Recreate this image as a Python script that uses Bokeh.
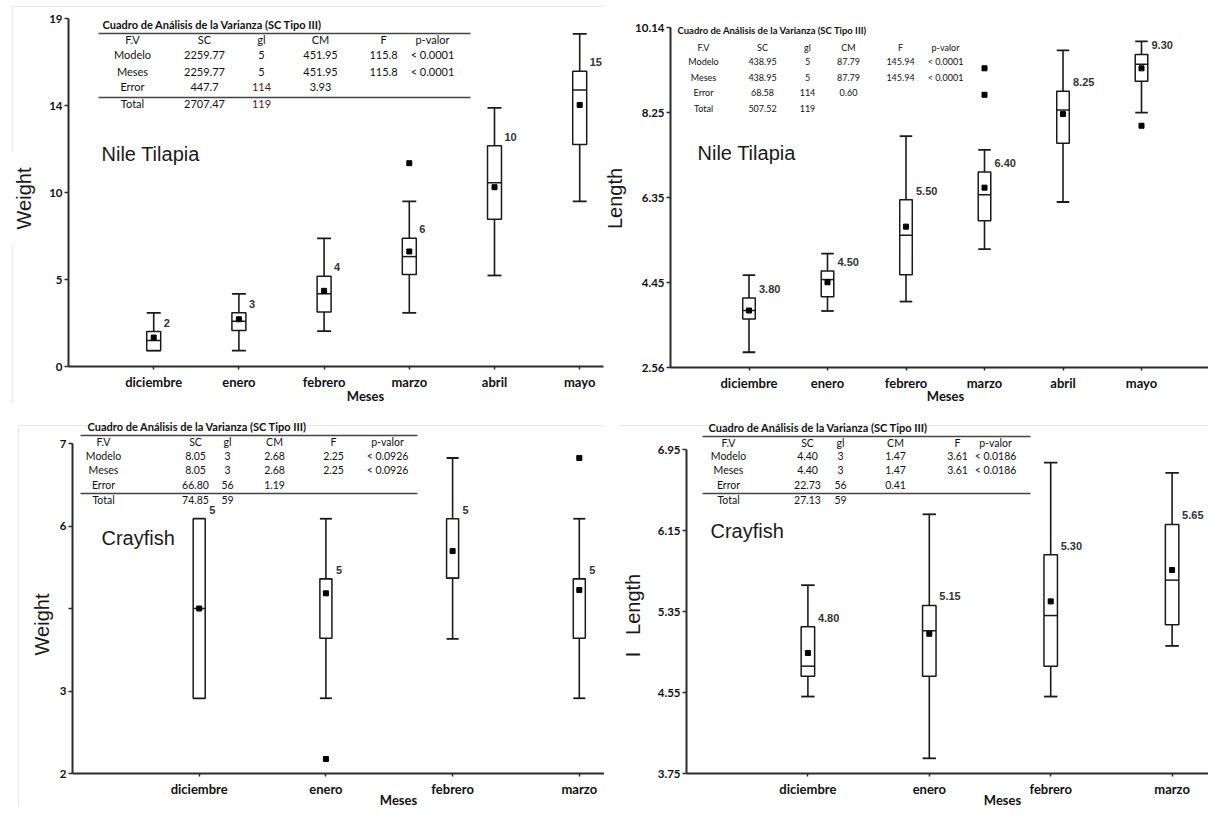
import math
from bokeh.plotting import figure
from bokeh.layouts import gridplot
from bokeh.models import Label, BoxAnnotation, FixedTicker, Range1d
from bokeh.embed import file_html
from bokeh.resources import INLINE
from bokeh.core.properties import value

# ---------------- data ----------------
meses_tilapia = ["diciembre", "enero", "febrero", "marzo", "abril", "mayo"]
meses_crayfish = ["diciembre", "enero", "febrero", "marzo"]

# Nile Tilapia - Weight
tw_lo = [0.87, 0.87, 1.93, 2.93, 4.97, 9.02]
tw_q1 = [0.87, 1.96, 2.98, 5.02, 8.04, 12.12]
tw_med = [1.42, 2.47, 3.97, 6.00, 10.03, 15.10]
tw_q3 = [1.91, 2.93, 4.93, 7.00, 12.05, 16.12]
tw_hi = [2.93, 3.97, 7.00, 9.02, 14.12, 18.16]
tw_mean = [1.58, 2.58, 4.13, 6.28, 9.79, 14.28]
tw_out_x = [4]
tw_out_y = [11.10]
tw_labels = ["2", "3", "4", "6", "10", "15"]
tw_ticks = [0, 4.75, 9.5, 14.25, 19]
tw_tick_labels = ["0", "5", "10", "14", "19"]

# Nile Tilapia - Length
tl_lo = [2.90, 3.82, 4.03, 5.20, 6.25, 8.24]
tl_q1 = [3.64, 4.14, 4.63, 5.83, 7.56, 8.94]
tl_med = [3.83, 4.52, 5.51, 6.41, 8.30, 9.32]
tl_q3 = [4.11, 4.71, 6.30, 6.92, 8.72, 9.54]
tl_hi = [4.62, 5.10, 7.72, 7.41, 9.63, 9.83]
tl_mean = [3.83, 4.46, 5.70, 6.57, 8.21, 9.23]
tl_out_x = [4, 4, 6]
tl_out_y = [9.23, 8.64, 7.95]
tl_labels = ["3.80", "4.50", "5.50", "6.40", "8.25", "9.30"]
tl_ticks = [2.56, 4.455, 6.35, 8.245, 10.14]
tl_tick_labels = ["2.56", "4.45", "6.35", "8.25", "10.14"]

# Crayfish - Weight
cw_lo = [3.14, 3.14, 4.04, 3.14]
cw_q1 = [3.14, 4.05, 4.96, 4.05]
cw_med = [4.50, 4.95, 4.96, 4.95]
cw_q3 = [5.86, 4.95, 5.86, 4.95]
cw_hi = [5.86, 5.86, 6.78, 5.86]
cw_mean = [4.50, 4.73, 5.37, 4.78]
cw_out_x = [2, 4]
cw_out_y = [2.22, 6.78]
cw_labels = ["5", "5", "5", "5"]
cw_ticks = [2, 3.25, 4.5, 5.75, 7]
cw_tick_labels = ["2", "3", "", "6", "7"]

# Crayfish - Length
cl_lo = [4.51, 3.90, 4.51, 5.01]
cl_q1 = [4.71, 4.71, 4.81, 5.22]
cl_med = [4.81, 5.16, 5.31, 5.66]
cl_q3 = [5.20, 5.41, 5.91, 6.21]
cl_hi = [5.61, 6.31, 6.82, 6.72]
cl_mean = [4.94, 5.13, 5.45, 5.76]
cl_labels = ["4.80", "5.15", "5.30", "5.65"]
cl_ticks = [3.75, 4.55, 5.35, 6.15, 6.95]
cl_tick_labels = ["3.75", "4.55", "5.35", "6.15", "6.95"]

# ANOVA tables
table_header = ["F.V", "SC", "gl", "CM", "F", "p-valor"]
table_title = "Cuadro de Análisis de la Varianza (SC Tipo III)"
tw_table = [["Modelo", "2259.77", "5", "451.95", "115.8", "< 0.0001"],
            ["Meses", "2259.77", "5", "451.95", "115.8", "< 0.0001"],
            ["Error", "447.7", "114", "3.93", "", ""],
            ["Total", "2707.47", "119", "", "", ""]]
tl_table = [["Modelo", "438.95", "5", "87.79", "145.94", "< 0.0001"],
            ["Meses", "438.95", "5", "87.79", "145.94", "< 0.0001"],
            ["Error", "68.58", "114", "0.60", "", ""],
            ["Total", "507.52", "119", "", "", ""]]
cw_table = [["Modelo", "8.05", "3", "2.68", "2.25", "< 0.0926"],
            ["Meses", "8.05", "3", "2.68", "2.25", "< 0.0926"],
            ["Error", "66.80", "56", "1.19", "", ""],
            ["Total", "74.85", "59", "", "", ""]]
cl_table = [["Modelo", "4.40", "3", "1.47", "3.61", "< 0.0186"],
            ["Meses", "4.40", "3", "1.47", "3.61", "< 0.0186"],
            ["Error", "22.73", "56", "0.41", "", ""],
            ["Total", "27.13", "59", "", "", ""]]

INK = "#1a1a1a"
AXIS = "#2b2b2b"


def make_fig(W, H, AL, AR, T0, B, s, ymin, ymax, cats, ticks, tick_labels):
    """Frame covers the whole figure; axes are placed at fixed data locations."""
    x_start = -AL / s
    x_end = (W - AL) / s
    u = (ymax - ymin) / (B - T0)
    y_start = ymin - (H - B) * u
    y_end = ymax + T0 * u
    p = figure(width=W, height=H, x_range=Range1d(x_start, x_end), y_range=Range1d(y_start, y_end),
               output_backend="svg", toolbar_location=None,
               min_border_left=0, min_border_right=0, min_border_top=0, min_border_bottom=0)
    p.grid.visible = False
    p.outline_line_color = None
    p.background_fill_color = "white"
    p.border_fill_color = "white"
    xs = list(range(1, len(cats) + 1))
    p.xaxis.ticker = FixedTicker(ticks=xs)
    p.xaxis.major_label_overrides = {x: c for x, c in zip(xs, cats)}
    p.yaxis.ticker = FixedTicker(ticks=ticks)
    p.yaxis.major_label_overrides = {t: l for t, l in zip(ticks, tick_labels)}
    p.yaxis.fixed_location = 0
    p.xaxis.fixed_location = ymin
    p.yaxis.bounds = (ymin, ymax)
    p.xaxis.bounds = (0, (AR - AL) / s)
    for ax in (p.xaxis[0], p.yaxis[0]):
        ax.axis_line_color = AXIS
        ax.axis_line_width = 2
        ax.major_tick_line_color = AXIS
        ax.major_tick_line_width = 1.5
        ax.major_tick_in = 0
        ax.minor_tick_line_color = None
        ax.major_label_text_font = "Lato"
        ax.major_label_text_font_style = "bold"
        ax.major_label_text_color = "#111111"
    p.xaxis.major_tick_out = 3
    p.yaxis.major_tick_out = 4
    p.xaxis.major_label_text_font_size = "13px"
    p.xaxis.major_label_standoff = 4
    p.yaxis.major_label_text_font_size = "11.5px"
    p.yaxis.major_label_standoff = 2
    p._geom = H
    return p


def text_at(p, px, py, txt, size="10px", font="Lato", style="normal", align="center",
            color="#111111", angle=0.0):
    p.add_layout(Label(x=px, y=p._geom - py, x_units="screen", y_units="screen", text=txt,
                       text_font=font, text_font_size=size, text_font_style=style,
                       text_align=align, text_baseline="middle", text_color=color, angle=angle))


def hrule(p, x0, x1, py, color="#444444", thick=1.4):
    sy = p._geom - py
    p.add_layout(BoxAnnotation(left=x0, right=x1, bottom=sy - thick / 2, top=sy + thick / 2,
                               left_units="screen", right_units="screen",
                               bottom_units="screen", top_units="screen",
                               fill_color=color, fill_alpha=1.0, line_alpha=0))


def vrule(p, px, y0, y1, color="#e6e6e6", thick=1.0):
    H = p._geom
    p.add_layout(BoxAnnotation(left=px - thick / 2, right=px + thick / 2, bottom=H - y1, top=H - y0,
                               left_units="screen", right_units="screen",
                               bottom_units="screen", top_units="screen",
                               fill_color=color, fill_alpha=1.0, line_alpha=0))


def draw_boxes(p, n, lo, q1, med, q3, hi, mean, w, labels, out_x=None, out_y=None):
    xs = list(range(1, n + 1))
    left = [x - w / 2 for x in xs]
    right = [x + w / 2 for x in xs]
    p.segment(x0=xs, y0=lo, x1=xs, y1=q1, line_color=INK, line_width=1.6)
    p.segment(x0=xs, y0=q3, x1=xs, y1=hi, line_color=INK, line_width=1.6)
    p.segment(x0=left, y0=lo, x1=right, y1=lo, line_color=INK, line_width=1.8)
    p.segment(x0=left, y0=hi, x1=right, y1=hi, line_color=INK, line_width=1.8)
    p.vbar(x=xs, width=w, bottom=q1, top=q3, fill_color="white", line_color=INK, line_width=1.5)
    p.segment(x0=left, y0=med, x1=right, y1=med, line_color=INK, line_width=1.5)
    p.scatter(x=xs, y=mean, marker="square", size=5, fill_color="black", line_color="black")
    if out_x:
        p.scatter(x=out_x, y=out_y, marker="square", size=5, fill_color="black", line_color="black")
    p.text(x=xs, y=q3, text=labels, x_offset=10, y_offset=-9,
           text_font=value("Liberation Sans"), text_font_style="bold",
           text_font_size="11px", text_align="left", text_baseline="middle",
           text_color="#333333")


def draw_table(p, title_xy, rows_y, cols_x, rule_x, rule_ys, rows, size, tsize, num_color=None):
    text_at(p, title_xy[0], title_xy[1], table_title, size=tsize, style="bold", align="left")
    for ry in rule_ys:
        hrule(p, rule_x[0], rule_x[1], ry)
    all_rows = [table_header] + rows
    for ri, (r, yy) in enumerate(zip(all_rows, rows_y)):
        for c, (cx, cell) in enumerate(zip(cols_x, r)):
            if cell:
                col = "#111111"
                if num_color and c == 2 and ri >= 3:
                    col = num_color
                text_at(p, cx, yy, cell, size=size, color=col)


def axis_titles(p, ylab, yx, yy, mx, my):
    text_at(p, yx, yy, ylab, size="20px", font="Liberation Sans", color="#1a1a1a", angle=math.pi / 2)
    text_at(p, mx, my, "Meses", size="13px", style="bold")


# ---------------- Top-left: Nile Tilapia weight ----------------
p1 = make_fig(604, 403, 68, 603, 18, 366, 85.2, 0, 19, meses_tilapia, tw_ticks, tw_tick_labels)
hrule(p1, 12, 604, 6, color="#e6e6e6", thick=1.0)
vrule(p1, 12, 6, 152)
vrule(p1, 12, 245, 403)
draw_boxes(p1, 6, tw_lo, tw_q1, tw_med, tw_q3, tw_hi, tw_mean, 0.164, tw_labels, tw_out_x, tw_out_y)
draw_table(p1, (102, 24), [39, 54, 71, 86, 103], [132, 204, 261, 320, 383, 432],
           (98, 470), [33, 97], tw_table, "11px", "11px", num_color="#5a1414")
text_at(p1, 101, 153, "Nile Tilapia", size="20px", font="Liberation Sans", align="left", color="#1a1a1a")
axis_titles(p1, "Weight", 23, 198, 365, 395)

# ---------------- Top-right: Nile Tilapia length ----------------
p2 = make_fig(604, 403, 66, 604, 27, 367, 78.5, 2.56, 10.14, meses_tilapia, tl_ticks, tl_tick_labels)
draw_boxes(p2, 6, tl_lo, tl_q1, tl_med, tl_q3, tl_hi, tl_mean, 0.16, tl_labels, tl_out_x, tl_out_y)
draw_table(p2, (73, 30), [47, 61, 77, 92, 108], [99, 158, 203, 244, 296, 341],
           (0, 0), [], tl_table, "9px", "9.5px")
text_at(p2, 93, 152, "Nile Tilapia", size="20px", font="Liberation Sans", align="left", color="#1a1a1a")
axis_titles(p2, "Length", 10, 198, 341, 395)

# ---------------- Bottom-left: Crayfish weight ----------------
p3 = make_fig(604, 404, 72, 604, 40, 370, 126.7, 2, 7, meses_crayfish, cw_ticks, cw_tick_labels)
hrule(p3, 18, 604, 22, color="#e6e6e6", thick=1.0)
vrule(p3, 18, 22, 404)
draw_boxes(p3, 4, cw_lo, cw_q1, cw_med, cw_q3, cw_hi, cw_mean, 0.095, cw_labels, cw_out_x, cw_out_y)
draw_table(p3, (87, 23), [38, 52, 66, 81, 96], [103, 195, 227, 274, 333, 387],
           (80, 417), [32, 90], cw_table, "10.5px", "11px")
text_at(p3, 101, 134, "Crayfish", size="20px", font="Liberation Sans", align="left", color="#1a1a1a")
axis_titles(p3, "Weight", 41, 221, 398, 396)

# ---------------- Bottom-right: Crayfish length ----------------
p4 = make_fig(604, 404, 82, 604, 46, 370, 121.4, 3.75, 6.95, meses_crayfish, cl_ticks, cl_tick_labels)
hrule(p4, 14, 604, 22, color="#e6e6e6", thick=1.0)
draw_boxes(p4, 4, cl_lo, cl_q1, cl_med, cl_q3, cl_hi, cl_mean, 0.111, cl_labels)
draw_table(p4, (104, 24), [39, 52, 66, 81, 96], [124, 203, 236, 291, 353, 391],
           (98, 426), [33, 90], cl_table, "10.5px", "11px")
text_at(p4, 106, 127, "Crayfish", size="20px", font="Liberation Sans", align="left", color="#1a1a1a")
axis_titles(p4, "I\u00a0\u00a0\u00a0Length", 28, 212, 398, 396)

grid = gridplot([[p1, p2], [p3, p4]], toolbar_location=None)

open("out.html", "w").write(file_html(grid, INLINE))
